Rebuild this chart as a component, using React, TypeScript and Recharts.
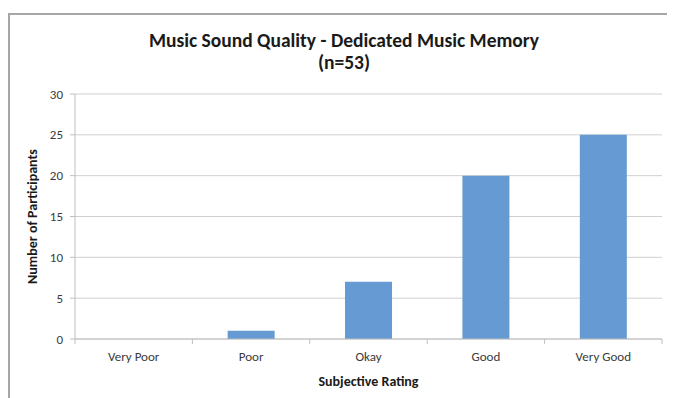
import { BarChart, Bar, XAxis, YAxis, CartesianGrid } from 'recharts'

const ratings = ['Very Poor', 'Poor', 'Okay', 'Good', 'Very Good']
const participants = [0, 1, 7, 20, 25]
const yTicks = [0, 5, 10, 15, 20, 25, 30]

const data = ratings.map((r, i) => ({ rating: r, count: participants[i] }))

const font = 'Carlito, Lato, "Open Sans", sans-serif'
const axisGray = '#bfbfbf'

function CategoryTick(props: any) {
  const { x, y, payload, index, visibleTicksCount } = props
  const half = payload?.offset ?? 58.7
  const top = y - 16
  return (
    <g>
      <line x1={x - half} y1={top} x2={x - half} y2={top + 5} stroke={axisGray} />
      {index === visibleTicksCount - 1 && (
        <line x1={x + half} y1={top} x2={x + half} y2={top + 5} stroke={axisGray} />
      )}
      <text x={x} y={y} dy={6} textAnchor="middle" fill="#3a3a3a" fontSize={13} fontFamily={font}>
        {payload.value}
      </text>
    </g>
  )
}

export default function App() {
  return (
    <div style={{ position: 'relative', width: 667, height: 390, overflow: 'hidden', fontFamily: font }}>
      <div
        style={{
          position: 'absolute',
          left: 0,
          top: 5,
          width: 700,
          height: 420,
          borderLeft: '2px solid #a6a6a6',
          borderTop: '2px solid #a6a6a6',
        }}
      />
      <div
        style={{
          position: 'absolute',
          left: 0,
          width: 672,
          top: 21,
          textAlign: 'center',
          fontWeight: 700,
          fontSize: 19.5,
          lineHeight: '22px',
          color: '#1a1a1a',
        }}
      >
        <div>Music Sound Quality - Dedicated Music Memory</div>
        <div>(n=53)</div>
      </div>
      <div style={{ position: 'absolute', left: 0, top: 0 }}>
        <BarChart
          width={667}
          height={390}
          data={data}
          margin={{ top: 86, right: 13, left: 0, bottom: 13 }}
          barCategoryGap="30%"
        >
          <CartesianGrid vertical={false} stroke="#d0d0d0" />
          <XAxis
            dataKey="rating"
            height={46}
            stroke={axisGray}
            tickLine={false}
            tickSize={0}
            tickMargin={16}
            interval={0}
            tick={<CategoryTick />}
            label={{
              value: 'Subjective Rating',
              position: 'insideBottom',
              offset: -1,
              fill: '#1a1a1a',
              fontSize: 14,
              fontWeight: 700,
              fontFamily: font,
            }}
          />
          <YAxis
            width={67}
            domain={[0, 30]}
            ticks={yTicks}
            interval={0}
            stroke={axisGray}
            tickSize={5}
            tickMargin={7}
            tick={{ fill: '#3a3a3a', fontSize: 13, fontFamily: font }}
            label={{
              value: 'Number of Participants',
              angle: -90,
              position: 'insideLeft',
              offset: 24,
              fill: '#1a1a1a',
              fontSize: 14,
              fontWeight: 700,
              fontFamily: font,
              style: { textAnchor: 'middle' },
            }}
          />
          <Bar dataKey="count" fill="#659ad2" isAnimationActive={false} />
        </BarChart>
      </div>
    </div>
  )
}
